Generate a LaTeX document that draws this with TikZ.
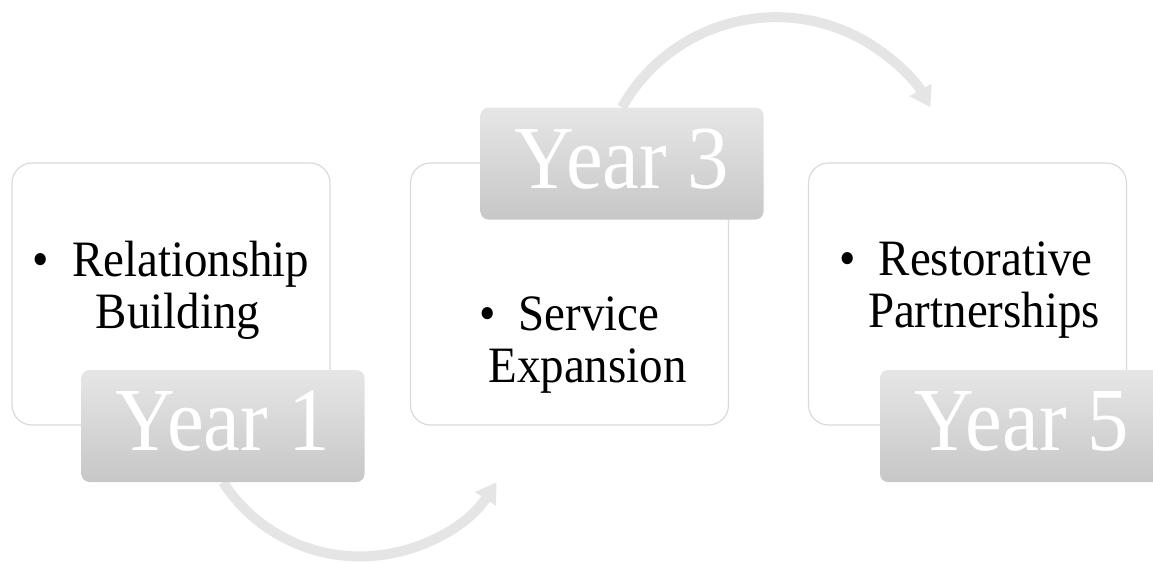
\documentclass[tikz,border=0pt]{standalone}
\usepackage{fontspec}
\setmainfont[FakeStretch=0.92]{Liberation Serif}
\usetikzlibrary{arrows.meta,backgrounds}
\definecolor{boxline}{RGB}{218,218,218}
\definecolor{labtop}{RGB}{230,230,230}
\definecolor{labbot}{RGB}{199,199,199}
\definecolor{arrowgray}{RGB}{229,229,229}
\newcommand{\bul}{\textbullet\hspace{0.45em}}

\begin{document}
\begin{tikzpicture}[x=1pt,y=-1pt]
  \tikzstyle{every node}+=[inner sep=0pt]
  \tikzstyle{stagebox}=[draw=boxline, line width=1.2pt, fill=white, rounded corners=20pt, minimum width=318pt, minimum height=262pt]
  \tikzstyle{yearlab}=[rounded corners=8pt, top color=labtop, bottom color=labbot, minimum width=283pt, minimum height=112pt, text=white, text depth=10pt, font=\fontsize{90}{100}\selectfont]
  \tikzstyle{itemtext}=[align=center, font=\fontsize{51}{52}\selectfont]
  \tikzstyle{cycarrow}=[draw=arrowgray, line width=10pt, -{Triangle[width=24pt,length=20pt]}]
  \useasboundingbox (0,0) rectangle (1153,563);

  % stage boxes
  \node[stagebox] (b1) at (171,294) {};
  \node[stagebox] (b2) at (569.5,294) {};
  \node[stagebox] (b3) at (967.5,294) {};

  % year labels
  \node[yearlab] (y1) at (223,426) {Year 1};
  \node[yearlab] (y3) at (622,163.5) {Year 3};
  \node[yearlab] (y5) at (1021.5,426) {Year 5};

  % texts
  \node[itemtext] (t1) at (171,290) {\bul Relationship\\\hspace*{14pt}Building};
  \node[itemtext] (t2) at (569.5,345.5) {\bul Service\\\hspace*{36pt}Expansion};
  \node[itemtext] (t3) at (966,290) {\bul Restorative\\\hspace*{36pt}Partnerships};

  % arrows between the years
  \begin{scope}[on background layer]
    \draw[cycarrow] (y1.south) arc[start angle=147, end angle=33, radius=163];
    \draw[cycarrow] (y3.north) arc[start angle=209.4, end angle=330.6, radius=177];
  \end{scope}
\end{tikzpicture}
\end{document}
